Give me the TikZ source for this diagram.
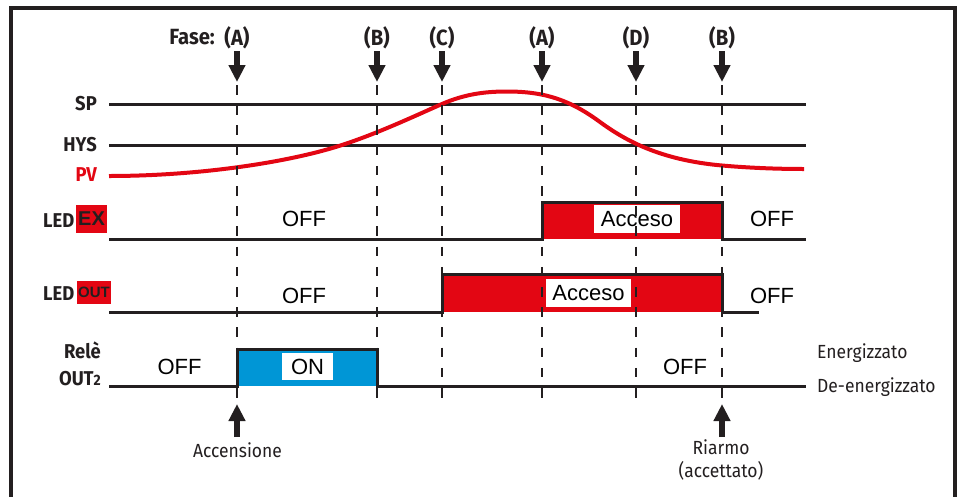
\documentclass[tikz,border=0pt]{standalone}
\usepackage{fontspec}
\setmainfont{Liberation Sans}
\newfontfamily\labelfont[FakeStretch=0.92]{Fira Sans}
\usetikzlibrary{arrows.meta}
\definecolor{ink}{RGB}{35,31,32}
\definecolor{alarmred}{RGB}{227,6,19}
\definecolor{relayblue}{RGB}{0,150,214}
\begin{document}
\begin{tikzpicture}[x=1pt,y=-1pt,
  level/.style={draw=ink,line width=3pt},
  signal/.style={draw=ink,line width=3pt,line join=miter},
  marker/.style={draw=ink,dash pattern=on 9.5pt off 10.7pt,line width=2.6pt},
  phase/.style={font=\labelfont\bfseries\fontsize{22}{22}\selectfont,text=ink,inner sep=0pt},
  side/.style={font=\labelfont\bfseries\fontsize{20}{20}\selectfont,text=ink,inner sep=0pt},
  note/.style={font=\labelfont\fontsize{19}{23}\selectfont,text=ink,inner sep=0pt,align=center},
  state/.style={font=\fontsize{22}{22}\selectfont,text=black,inner sep=0pt},
  tag/.style={state,fill=white,minimum height=28pt},
  ledtag/.style={fill=alarmred,text=ink,inner sep=0pt,font=\bfseries},
  phasearrow/.style={draw=ink,line width=6pt,-{Triangle[width=16pt,length=17pt]}},
]
\useasboundingbox (0,0) rectangle (966,496);

% outer frame (open at the bottom)
\draw[ink,line width=4pt] (11,500) -- (11,8) -- (955,8) -- (955,500);

% time instants
\foreach \t/\x in {A1/237,B1/377,C/442,A2/542,D/636,B2/722}
  \coordinate (t\t) at (\x,0);
\coordinate (phaserow) at (0,37.5);
\coordinate (arrowtop) at (0,51);
\coordinate (arrowtip) at (0,82);
\coordinate (dashtop) at (0,85);
\coordinate (dashbottom) at (0,398);

% phase labels and arrows
\node[phase,anchor=east] (fase) at (215,37.5) {Fase:};
\foreach \t/\l in {A1/A,B1/B,C/C,A2/A,D/D,B2/B}{
  \node[phase] (ph\t) at (t\t |- phaserow) {(\l)};
  \draw[phasearrow] (t\t |- arrowtop) -- (t\t |- arrowtip);
}

% analog levels
\coordinate (spL) at (109,104);  \coordinate (spR) at (806,104);
\coordinate (hyL) at (109,145);  \coordinate (hyR) at (806,145);
\draw[level] (spL) -- (spR);
\draw[level] (hyL) -- (hyR);
\node[side,anchor=east] (sp) at (97,104) {SP};
\node[side,anchor=east] (hys) at (97,145) {HYS};
\node[side,anchor=east,text=alarmred] (pv) at (97,175) {PV};

% process value
\draw[alarmred,line width=4pt]
  (109,176) .. controls (200,176) and (290,162) .. (342,145)
            .. controls (380,132.6) and (419,114) .. (442,104)
            .. controls (465,94) and (485,91.5) .. (507,91.5)
            .. controls (545,91.5) and (570,100) .. (600,122)
            .. controls (625,140.3) and (660,160) .. (722,165.5)
            .. controls (747,167.7) and (775,169) .. (804,169);

% LED EX
\fill[alarmred] (542,202) rectangle (722,239);
\draw[signal] (109,239) -- (542,239) -- (542,202) -- (722,202) -- (722,239) -- (806,239);
\node[side,anchor=base west] (led1) at (43,227) {LED};
\node[ledtag,minimum width=31pt,minimum height=28pt,font=\bfseries\fontsize{20}{20}\selectfont] (ex) at (91.5,219) {EX};
\node[state] (exoff1) at (304,219) {OFF};
\node[tag,minimum width=86pt] (exon) at (637,219) {Acceso};
\node[state] (exoff2) at (772,219) {OFF};

% LED OUT
\fill[alarmred] (442,274) rectangle (722,312);
\draw[signal] (109,312) -- (442,312) -- (442,274) -- (722,274) -- (722,312) -- (759,312);
\node[side,anchor=base west] (led2) at (43,300) {LED};
\node[ledtag,minimum width=34pt,minimum height=23pt,font=\bfseries\fontsize{15}{15}\selectfont] (out) at (94,292.5) {OUT};
\node[state] (outoff1) at (304,296) {OFF};
\node[tag,minimum width=85pt] (outon) at (588.5,293) {Acceso};
\node[state] (outoff2) at (772,296) {OFF};

% relay OUT2
\fill[relayblue] (237,349) rectangle (377,386);
\draw[signal] (109,386) -- (237,386) -- (237,349) -- (377,349) -- (377,386) -- (806,386);
\node[side,anchor=base east] (rele) at (101,358) {Relè};
\node[side,anchor=base east] (out2) at (101,385) {OUT{\fontsize{15}{15}\selectfont 2}};
\node[state] (reloff1) at (179.5,366.5) {OFF};
\node[tag,minimum width=51pt,minimum height=27pt] (relon) at (307.5,366.5) {ON};
\node[state] (reloff2) at (685,367) {OFF};
\node[note,anchor=base west] (energ) at (817,358) {Energizzato};
\node[note,anchor=base west] (deenerg) at (817,392) {De-energizzato};

% phase markers
\foreach \t in {A1,B1,C,A2,D,B2}
  \draw[marker] (t\t |- dashtop) -- (t\t |- dashbottom);

% events
\coordinate (evtip) at (0,404);
\coordinate (evbase) at (0,437);
\draw[phasearrow] (tA1 |- evbase) -- (tA1 |- evtip);
\draw[phasearrow] (tB2 |- evbase) -- (tB2 |- evtip);
\node[note,anchor=base] (accensione) at (237.5,457) {Accensione};
\node[note,anchor=base] (riarmo) at (721,454) {Riarmo};
\node[note,anchor=base] (accettato) at (721,477) {(accettato)};
\end{tikzpicture}
\end{document}
